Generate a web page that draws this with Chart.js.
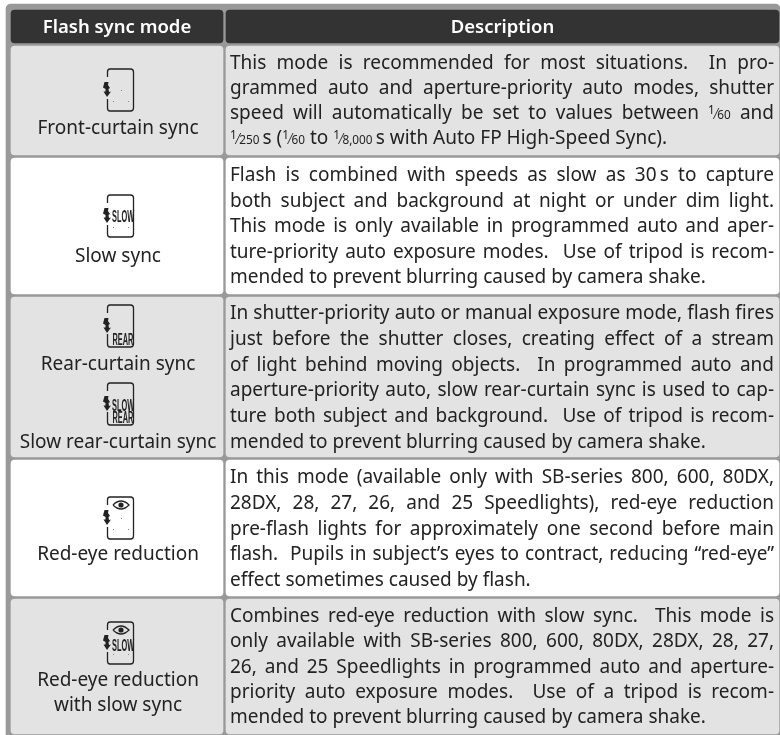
<!DOCTYPE html>
<html>
<head>
<meta charset="utf-8">
<title>Flash sync mode</title>
<script src="https://cdn.jsdelivr.net/npm/chart.js@4"></script>
<style>
  html, body { margin: 0; padding: 0; background: #fff; }
  canvas { display: block; }
</style>
</head>
<body>
<canvas id="table" width="780" height="735"></canvas>
<script>
const headers = ["Flash sync mode", "Description"];
// top and bottom edge of header + 5 rows
const rowTops = [10, 46, 158, 297, 460, 599];
const rowBottoms = [43, 155, 294, 457, 596, 734];
const columnLefts = [11, 226];
const columnRights = [223, 779];

const modeLabels = [
  [["Front-curtain sync"]],
  [["Slow sync"]],
  [["Rear-curtain sync"], ["Slow rear-curtain sync"]],
  [["Red-eye reduction"]],
  [["Red-eye reduction", "with slow sync"]],
];
const modeIcons = [
  [{}],
  [{ slow: true }],
  [{ rear: true }, { slow: true, rear: true }],
  [{ eye: true }],
  [{ eye: true, slow: true }],
];
const descriptions = [
  [
    "This mode is recommended for most situations.  In pro-",
    "grammed auto and aperture-priority auto modes, shutter",
    "speed will automatically be set to values between {1/60} and",
    "{1/250}\u2009s ({1/60} to {1/8,000}\u2009s with Auto FP High-Speed Sync).",
  ],
  [
    "Flash is combined with speeds as slow as 30\u2009s to capture",
    "both subject and background at night or under dim light.",
    "This mode is only available in programmed auto and aper-",
    "ture-priority auto exposure modes.  Use of tripod is recom-",
    "mended to prevent blurring caused by camera shake.",
  ],
  [
    "In shutter-priority auto or manual exposure mode, flash fires",
    "just before the shutter closes, creating effect of a stream",
    "of light behind moving objects.  In programmed auto and",
    "aperture-priority auto, slow rear-curtain sync is used to cap-",
    "ture both subject and background.  Use of tripod is recom-",
    "mended to prevent blurring caused by camera shake.",
  ],
  [
    "In this mode (available only with SB-series 800, 600, 80DX,",
    "28DX, 28, 27, 26, and 25 Speedlights), red-eye reduction",
    "pre-flash lights for approximately one second before main",
    "flash.  Pupils in subject\u2019s eyes to contract, reducing \u201cred-eye\u201d",
    "effect sometimes caused by flash.",
  ],
  [
    "Combines red-eye reduction with slow sync.  This mode is",
    "only available with SB-series 800, 600, 80DX, 28DX, 28, 27,",
    "26, and 25 Speedlights in programmed auto and aperture-",
    "priority auto exposure modes.  Use of a tripod is recom-",
    "mended to prevent blurring caused by camera shake.",
  ],
];

// layout of the text, not data
const FONT = '"Noto Sans"';
const TEXT_SIZE = 19;
const TEXT_COLOR = "#222";
const descFirstBaseline = [69, 181, 319, 483, 622];
const descLineGap = [25, 25.5, 25.8, 25.75, 25.25];
const descLeft = 230;
const descRight = 774;
const iconX = 107;
const iconTops = [[69], [195], [305, 383], [497], [622]];
const labelBaselines = [[134], [262], [370, 448], [560], [686]];
const labelCenter = 118;

function columnData(col) {
  const center = (columnLefts[col] + columnRights[col]) / 2;
  return rowTops.map((top, i) => ({ x: center, y: [top, rowBottoms[i]] }));
}

function cellColor(ctx) {
  if (ctx.dataIndex === 0) return "#333";
  return ctx.dataIndex % 2 === 1 ? "#e3e3e3" : "#fff";
}

function drawBolt(ctx, x, y) {
  ctx.beginPath();
  ctx.moveTo(x - 2.5, y);
  ctx.lineTo(x + 1.5, y);
  ctx.lineTo(x + 1, y + 3);
  ctx.lineTo(x + 3, y + 6);
  ctx.lineTo(x + 1.5, y + 7);
  ctx.lineTo(x + 2, y + 10);
  ctx.lineTo(x + 4, y + 9.5);
  ctx.lineTo(x, y + 15);
  ctx.lineTo(x - 3.5, y + 9.5);
  ctx.lineTo(x - 1.5, y + 9.5);
  ctx.lineTo(x - 1.5, y + 7);
  ctx.lineTo(x - 4, y + 5.5);
  ctx.closePath();
  ctx.fill();
}

function drawTinyWord(ctx, word, x, y) {
  // condensed caps inside the icon
  ctx.save();
  ctx.translate(x, y);
  ctx.scale(0.46, 1);
  ctx.font = 'bold 16px "Liberation Sans"';
  ctx.textAlign = "left";
  ctx.fillText(word, 0, 0);
  ctx.restore();
}

function drawIcon(ctx, x, y, icon) {
  ctx.save();
  ctx.strokeStyle = "#222";
  ctx.fillStyle = "#222";
  ctx.lineWidth = 1.3;
  const w = 26.5;
  const h = 42;
  const r = 3;
  ctx.beginPath();
  ctx.moveTo(x + 0.5, y + 8);
  ctx.lineTo(x + 0.5, y + r);
  ctx.quadraticCurveTo(x + 0.5, y, x + r, y);
  ctx.lineTo(x + w - r, y);
  ctx.quadraticCurveTo(x + w, y, x + w, y + r);
  ctx.lineTo(x + w, y + h - r);
  ctx.quadraticCurveTo(x + w, y + h, x + w - r, y + h);
  ctx.lineTo(x + r, y + h);
  ctx.quadraticCurveTo(x + 0.5, y + h, x + 0.5, y + h - r);
  ctx.lineTo(x + 0.5, y + (icon.rear ? 29 : 30));
  ctx.stroke();

  drawBolt(ctx, x, y + 13);

  if (icon.eye) {
    const ex = x + 14;
    const ey = y + 8;
    ctx.beginPath();
    ctx.moveTo(ex - 8, ey);
    ctx.quadraticCurveTo(ex, ey - 8, ex + 8, ey);
    ctx.quadraticCurveTo(ex, ey + 8, ex - 8, ey);
    ctx.stroke();
    ctx.beginPath();
    ctx.arc(ex, ey, 2.6, 0, Math.PI * 2);
    ctx.fill();
  }
  if (icon.slow) {
    const slowBase = icon.rear ? 28 : icon.eye ? 29 : 27;
    drawTinyWord(ctx, "SLOW", x + 5, y + slowBase);
  }
  if (icon.rear) {
    drawTinyWord(ctx, "REAR", x + 5.5, y + 40);
  }
  if (!icon.slow && !icon.rear) {
    ctx.fillStyle = "#888";
    ctx.fillRect(x + 14, y + 21, 1, 1);
  }
  if (!icon.rear) {
    ctx.fillStyle = "#888";
    ctx.fillRect(x + 6, y + 32, 1, 1);
    ctx.fillRect(x + 21, y + 32, 1, 1);
  }
  ctx.restore();
}

// splits a line in plain text and {1/60} style fractions
function parseRuns(line) {
  const runs = [];
  const re = /\{([^/]+)\/([^}]+)\}/g;
  let last = 0;
  let m;
  while ((m = re.exec(line))) {
    if (m.index > last) runs.push({ text: line.slice(last, m.index) });
    runs.push({ num: m[1], den: m[2] });
    last = m.index + m[0].length;
  }
  if (last < line.length) runs.push({ text: line.slice(last) });
  return runs;
}

function fractionWidth(ctx, run) {
  ctx.font = `${TEXT_SIZE * 0.62}px ${FONT}`;
  return ctx.measureText(run.num).width + ctx.measureText(run.den).width + 2.5;
}

function drawLine(ctx, line, x, y, right, justify) {
  const runs = parseRuns(line);
  const normal = `${TEXT_SIZE}px ${FONT}`;
  ctx.wordSpacing = "0px";
  let natural = 0;
  let spaces = 0;
  runs.forEach((r) => {
    if (r.text) {
      ctx.font = normal;
      natural += ctx.measureText(r.text).width;
      spaces += (r.text.match(/ /g) || []).length;
    } else {
      natural += fractionWidth(ctx, r);
    }
  });
  const extra = justify && spaces ? (right - x - natural) / spaces : 0;

  let cx = x;
  runs.forEach((r) => {
    if (r.text) {
      ctx.font = normal;
      ctx.wordSpacing = extra + "px";
      ctx.fillText(r.text, cx, y);
      cx += ctx.measureText(r.text).width;
      ctx.wordSpacing = "0px";
    } else {
      ctx.font = `${TEXT_SIZE * 0.62}px ${FONT}`;
      ctx.fillText(r.num, cx, y - 5);
      const nw = ctx.measureText(r.num).width;
      ctx.strokeStyle = TEXT_COLOR;
      ctx.lineWidth = 0.9;
      ctx.beginPath();
      ctx.moveTo(cx + nw - 1.5, y);
      ctx.lineTo(cx + nw + 4, y - 11);
      ctx.stroke();
      ctx.fillText(r.den, cx + nw + 2.5, y);
      cx += nw + ctx.measureText(r.den).width + 2.5;
    }
  });
}

const tableText = {
  id: "tableText",
  afterDatasetsDraw(chart) {
    const { ctx, scales } = chart;
    const px = (v) => scales.x.getPixelForValue(v);
    const py = (v) => scales.y.getPixelForValue(v);
    ctx.save();
    ctx.textBaseline = "alphabetic";

    ctx.fillStyle = "#fff";
    ctx.textAlign = "center";
    ctx.font = `600 18.5px ${FONT}`;
    headers.forEach((h, i) => {
      ctx.fillText(h, px((columnLefts[i] + columnRights[i]) / 2), py(33));
    });

    ctx.fillStyle = TEXT_COLOR;
    ctx.font = `${TEXT_SIZE}px ${FONT}`;
    modeLabels.forEach((entries, row) => {
      entries.forEach((lines, e) => {
        lines.forEach((text, l) => {
          ctx.fillText(text, px(labelCenter), py(labelBaselines[row][e] + l * 25));
        });
      });
    });

    modeIcons.forEach((entries, row) => {
      entries.forEach((icon, e) => {
        drawIcon(ctx, px(iconX), py(iconTops[row][e]), icon);
      });
    });

    ctx.textAlign = "left";
    ctx.fillStyle = TEXT_COLOR;
    descriptions.forEach((lines, row) => {
      lines.forEach((line, l) => {
        const justify = l < lines.length - 1;
        drawLine(ctx, line, px(descLeft), py(descFirstBaseline[row] + l * descLineGap[row]), px(descRight), justify);
      });
    });
    ctx.restore();
  },
};

// same stack name keeps the bars on their own x, not side by side
const barDefaults = {
  stack: "cells",
  borderSkipped: false,
};

new Chart(document.getElementById("table"), {
  type: "bar",
  data: {
    datasets: [
      {
        ...barDefaults,
        label: headers[0],
        data: columnData(0),
        backgroundColor: cellColor,
        barThickness: columnRights[0] - columnLefts[0],
        borderRadius: 4,
        order: 1,
      },
      {
        ...barDefaults,
        label: headers[1],
        data: columnData(1),
        backgroundColor: cellColor,
        barThickness: columnRights[1] - columnLefts[1],
        borderRadius: 4,
        order: 1,
      },
      {
        ...barDefaults,
        label: "panel",
        data: [{ x: 393, y: [4, 745] }],
        backgroundColor: "#999",
        barThickness: 774,
        borderRadius: 5,
        order: 2,
      },
    ],
  },
  options: {
    responsive: false,
    animation: false,
    layout: { padding: 0 },
    scales: {
      x: { type: "linear", display: false, min: 0, max: 780, offset: false },
      y: { type: "linear", display: false, reverse: true, min: 0, max: 735, stacked: false },
    },
    plugins: { legend: { display: false }, tooltip: { enabled: false } },
  },
  plugins: [tableText],
});
</script>
</body>
</html>
